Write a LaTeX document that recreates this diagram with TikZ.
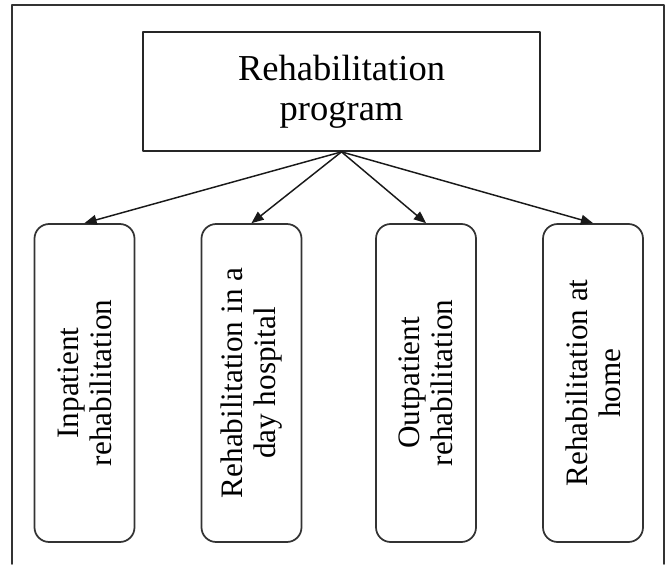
\documentclass[tikz,border=0pt]{standalone}
\usepackage{fontspec}
\setmainfont{Liberation Serif}
\usetikzlibrary{arrows}

\begin{document}
\begin{tikzpicture}[line cap=round,line join=round,>=triangle 45,x=0.75pt,y=-0.75pt,
  prog/.style={draw=black!85,line width=1.3pt,minimum width=297.75pt,minimum height=89.25pt,
    align=center,inner sep=0pt,font=\fontsize{27.4}{30}\selectfont},
  kind/.style={draw=black!80,line width=1.3pt,rounded corners=11pt,minimum width=75pt,
    minimum height=238.5pt,inner sep=0pt},
  kindtext/.style={rotate=90,align=center,inner sep=0pt,font=\fontsize{23.4}{24.5}\selectfont},
  link/.style={->,line width=1.1pt,black!90}]
			\useasboundingbox (0,0) rectangle (671,564);
			\draw [line width=1.3pt,black!80] (12,564)-- (12,5)-- (664,5)-- (664,564);
			\node[prog] (program) at (341.5,91.5) {Rehabilitation\\program};
			\node[kind] (inpatient) at (84.5,383) {};
			\node[kind] (dayhosp) at (251.5,383) {};
			\node[kind] (outpatient) at (426,383) {};
			\node[kind] (home) at (593,383) {};
			\node[kindtext] at (inpatient) {Inpatient\\rehabilitation};
			\node[kindtext] at (dayhosp) {Rehabilitation in a\\day hospital};
			\node[kindtext] at (outpatient) {Outpatient\\rehabilitation};
			\node[kindtext] at (home) {Rehabilitation at\\home};
			\foreach \target in {inpatient,dayhosp,outpatient,home}
				\draw [link] (program.south)-- (\target.north);
		\end{tikzpicture}
\end{document}
